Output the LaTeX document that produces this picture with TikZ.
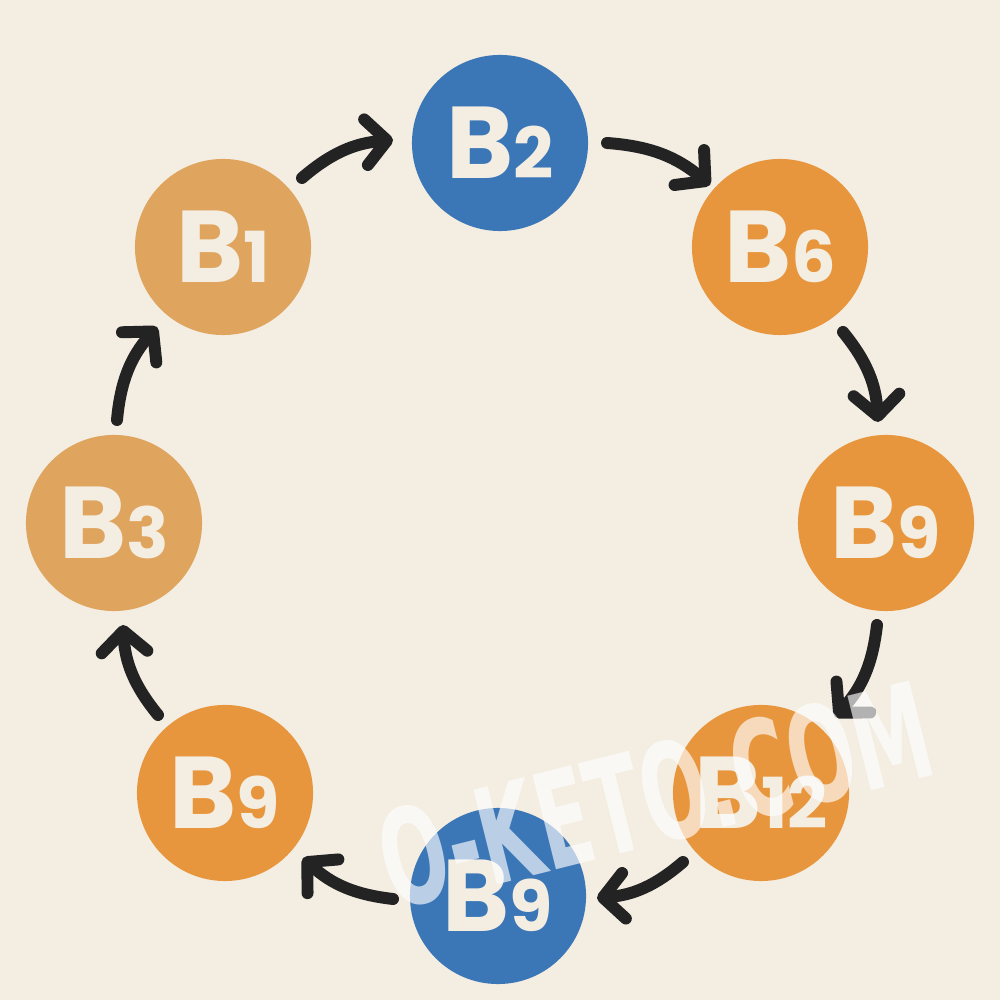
\documentclass[tikz,border=0pt]{standalone}
\usepackage{fontspec}
\usepackage{graphicx}
\newfontfamily\lbl{Poppins}
\newfontfamily\wmfont{DejaVu Sans Condensed}
\usetikzlibrary{arrows.meta,calc}
\definecolor{bg}{HTML}{F3EDE2}
\definecolor{blu}{HTML}{3B76B6}
\definecolor{org}{HTML}{E8963D}
\definecolor{tanb}{HTML}{DFA45E}
\definecolor{txt}{HTML}{F3EDE2}
\definecolor{ink}{HTML}{232323}
\newcommand\dg[1]{{\fontsize{20}{20}\selectfont #1}}
\begin{document}
\begin{tikzpicture}[x=0.01cm,y=0.01cm,
  ball/.style={circle,minimum size=1.76cm,inner sep=0pt,text=txt,
    font=\lbl\bfseries\fontsize{29}{29}\selectfont},
  arr/.style={ink,line width=3.4pt,line cap=round,
    -{Straight Barb[length=6pt,width=13pt,line cap=round,line join=round]}},
  wmark/.style={text=white,opacity=0.65,font=\wmfont\bfseries\fontsize{38}{38}\selectfont,rotate=14,inner sep=0pt}]
\fill[bg] (0,0) rectangle (1000,1000);
\useasboundingbox (0,0) rectangle (1000,1000);

\node[ball,fill=blu]  (b2)  at (500,857) {B\dg{2}};
\node[ball,fill=org]  (b6)  at (780,753) {B\dg{6}};
\node[ball,fill=org]  (b9r) at (886,477) {B\dg{9}};
\node[ball,fill=org]  (b12) at (761,207) {B\dg{12}};
\node[ball,fill=blu]  (b9b) at (498,104) {B\dg{9}};
\node[ball,fill=org]  (b9l) at (225,207) {B\dg{9}};
\node[ball,fill=tanb] (b3)  at (114,477) {B\dg{3}};
\node[ball,fill=tanb] (b1)  at (223,753) {B\dg{1}};

\draw[arr] ($(b1)+(79,69)$)   to[bend left=18] ($(b2)+(-107,3)$);
\draw[arr] ($(b2)+(107,0)$)   to[bend left=18] ($(b6)+(-70,62)$);
\draw[arr] ($(b6)+(63,-85)$)  to[bend left=18] ($(b9r)+(-8,101)$);
\draw[arr] ($(b9r)+(-9,-102)$) to[bend left=18] ($(b12)+(74,76)$);
\draw[arr] ($(b12)+(-78,-69)$) to[bend left=18] ($(b9b)+(99,-2)$);
\draw[arr] ($(b9b)+(-105,-3)$) to[bend left=18] ($(b9l)+(78,-65)$);
\draw[arr] ($(b9l)+(-67,78)$) to[bend left=18] ($(b3)+(9,-102)$);
\draw[arr] ($(b3)+(3,103)$)   to[bend left=18] ($(b1)+(-66,-80)$);

\node[wmark] (wm) at (655,205) {\scalebox{0.65}[1]{O-KETO.COM}};
\end{tikzpicture}
\end{document}
